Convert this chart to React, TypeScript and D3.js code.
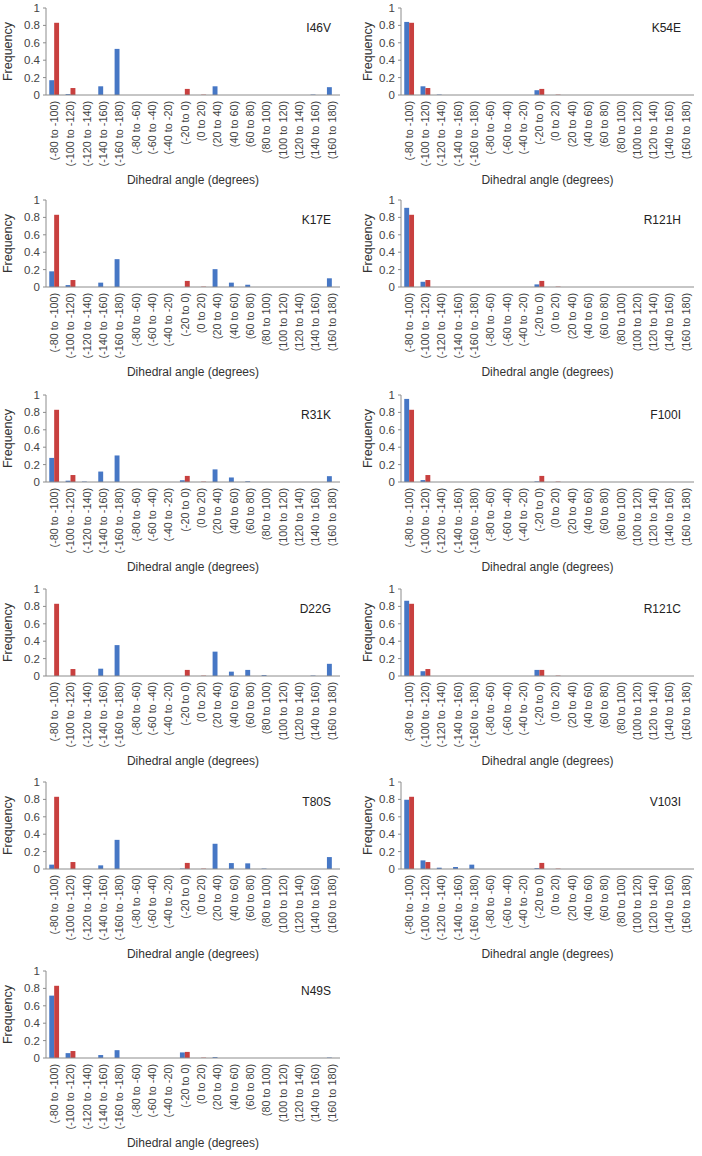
import * as React from 'react';
import {scaleBand, scaleLinear} from 'd3';

const categories = [
    '(-80 to -100)', '(-100 to -120)', '(-120 to -140)', '(-140 to -160)', '(-160 to -180)',
    '(-80 to -60)', '(-60 to -40)', '(-40 to -20)', '(-20 to 0)', '(0 to 20)',
    '(20 to 40)', '(40 to 60)', '(60 to 80)', '(80 to 100)', '(100 to 120)',
    '(120 to 140)', '(140 to 160)', '(160 to 180)'
];

const yTicks = [0, 0.2, 0.4, 0.6, 0.8, 1];

// red series, same in every panel
const wildType = [0.83, 0.08, 0, 0, 0, 0, 0, 0, 0.07, 0.004, 0, 0, 0, 0, 0, 0, 0, 0];

// blue series, one per mutant
const i46v = [0.17, 0.01, 0, 0.1, 0.53, 0, 0, 0, 0, 0, 0.1, 0, 0, 0, 0, 0, 0.005, 0.09];
const k54e = [0.84, 0.1, 0.005, 0, 0, 0, 0, 0, 0.055, 0, 0, 0, 0, 0, 0, 0, 0, 0];
const k17e = [0.18, 0.022, 0, 0.05, 0.32, 0, 0, 0, 0, 0, 0.205, 0.05, 0.026, 0, 0, 0, 0, 0.1];
const r121h = [0.91, 0.06, 0, 0, 0, 0, 0, 0, 0.03, 0, 0, 0, 0, 0, 0, 0, 0, 0];
const r31k = [0.277, 0.015, 0.005, 0.12, 0.305, 0, 0, 0, 0.02, 0, 0.145, 0.052, 0.008, 0, 0, 0, 0, 0.067];
const f100i = [0.955, 0.022, 0, 0, 0, 0, 0, 0, 0.007, 0, 0, 0, 0, 0, 0, 0, 0, 0];
const d22g = [0, 0, 0, 0.084, 0.355, 0, 0, 0, 0, 0, 0.28, 0.05, 0.07, 0.01, 0, 0, 0.005, 0.14];
const r121c = [0.865, 0.055, 0, 0, 0, 0, 0, 0, 0.07, 0, 0, 0, 0, 0, 0, 0, 0, 0];
const t80s = [0.05, 0, 0, 0.042, 0.335, 0, 0, 0, 0.005, 0, 0.29, 0.068, 0.065, 0.005, 0, 0, 0, 0.137];
const v103i = [0.796, 0.099, 0.015, 0.023, 0.05, 0, 0, 0, 0.01, 0, 0, 0, 0, 0, 0, 0, 0, 0];
const n49s = [0.717, 0.056, 0, 0.034, 0.09, 0, 0, 0, 0.064, 0, 0.01, 0, 0, 0, 0, 0, 0, 0.005];

const panels = [
    {name: 'I46V', values: i46v, col: 0, row: 0},
    {name: 'K54E', values: k54e, col: 1, row: 0},
    {name: 'K17E', values: k17e, col: 0, row: 1},
    {name: 'R121H', values: r121h, col: 1, row: 1},
    {name: 'R31K', values: r31k, col: 0, row: 2},
    {name: 'F100I', values: f100i, col: 1, row: 2},
    {name: 'D22G', values: d22g, col: 0, row: 3},
    {name: 'R121C', values: r121c, col: 1, row: 3},
    {name: 'T80S', values: t80s, col: 0, row: 4},
    {name: 'V103I', values: v103i, col: 1, row: 4},
    {name: 'N49S', values: n49s, col: 0, row: 5},
];

const width = 702;
const height = 1156;
const rowTops = [8, 200, 395, 589, 782, 971];
const plotH = 87;
const cols = [
    {left: 46, right: 340, titleX: 331, freqX: 8},
    {left: 401, right: 694, titleX: 681, freqX: 368},
];
const blue = '#4677C5';
const red = '#C8403F';
const axisColor = '#8c8c8c';
const font = '"Liberation Sans", Arial, sans-serif';

function Panel({name, values, col, row}: {name: string, values: number[], col: number, row: number}) {
    const c = cols[col];
    const top = rowTops[row];
    const bottom = top + plotH;

    const x = scaleBand()
        .domain(categories)
        .range([c.left, c.right])
        .paddingInner(0.4)
        .paddingOuter(0.2);
    const xs = scaleBand()
        .domain(['mutant', 'wild'])
        .range([0, x.bandwidth()]);
    const y = scaleLinear().domain([0, 1]).range([bottom, top]);

    const series = [
        {key: 'mutant', data: values, color: blue},
        {key: 'wild', data: wildType, color: red},
    ];

    return (
        <g fontFamily={font}>
            {series.map(s => s.data.map((v, i) => v > 0 ?
                <rect key={s.key + i}
                      x={(x(categories[i]) ?? 0) + (xs(s.key) ?? 0)}
                      y={y(v)}
                      width={xs.bandwidth()}
                      height={bottom - y(v)}
                      fill={s.color}/> : null))}
            <line x1={c.left} x2={c.left} y1={top} y2={bottom} stroke={axisColor}/>
            <line x1={c.left} x2={c.right} y1={bottom} y2={bottom} stroke={axisColor}/>
            {yTicks.map(t =>
                <g key={t}>
                    <line x1={c.left - 3} x2={c.left} y1={y(t)} y2={y(t)} stroke={axisColor}/>
                    <text x={c.left - 6} y={y(t)} dy="0.35em" textAnchor="end"
                          fontSize={11.5} fill="#444">{String(t)}</text>
                </g>
            )}
            {categories.map(cat => {
                const cx = (x(cat) ?? 0) + x.bandwidth() / 2;
                return (
                    <text key={cat} transform={`translate(${cx},${bottom + 6}) rotate(-90)`}
                          dy="0.35em" textAnchor="end" fontSize={10.8} fill="#444">{cat}</text>
                );
            })}
            <text transform={`translate(${c.freqX},${(top + bottom) / 2}) rotate(-90)`}
                  dy="0.35em" textAnchor="middle" fontSize={12.5} fill="#333">Frequency</text>
            <text x={(c.left + c.right) / 2} y={bottom + 89} textAnchor="middle"
                  fontSize={12} fill="#333">Dihedral angle (degrees)</text>
            <text x={c.titleX} y={top + 24} textAnchor="end" fontSize={12} fill="#222">{name}</text>
        </g>
    );
}

export default function App() {
    return (
        <svg width={width} height={height}
             style={{position: 'absolute', left: 0, top: 0, background: '#fff'}}>
            {panels.map(p => <Panel key={p.name} {...p}/>)}
        </svg>
    );
}
